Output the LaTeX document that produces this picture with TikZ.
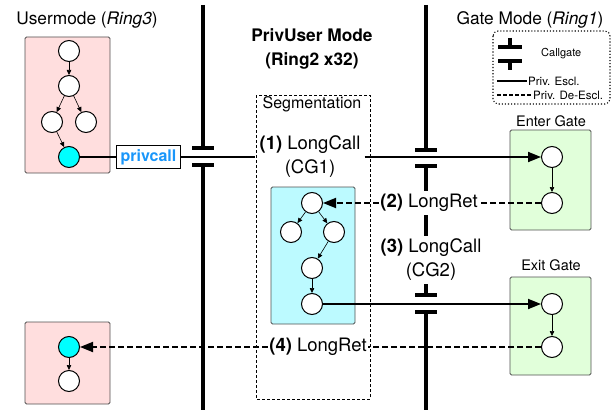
\documentclass[tikz,border=0pt]{standalone}
\usepackage{fontspec}
\setmainfont{TeX Gyre Heros}
\usetikzlibrary{arrows.meta}
\definecolor{userpink}{RGB}{255,222,222}
\definecolor{segcyan}{RGB}{188,250,255}
\definecolor{gategreen}{RGB}{225,255,218}
\definecolor{hotcyan}{RGB}{0,255,255}
\definecolor{privblue}{RGB}{25,150,250}
\definecolor{boxedge}{RGB}{80,80,80}
\tikzset{
  ring/.style={draw, circle, fill=white, minimum size=21pt, inner sep=0pt, line width=1pt},
  hotring/.style={ring, fill=hotcyan},
  flow/.style={line width=0.6pt, -{Triangle[length=5pt,width=4.5pt]}},
  wall/.style={line width=3.6pt},
  link/.style={line width=1.8pt},
  tip/.style={-{Triangle[length=13pt,width=10pt]}},
  back/.style={link, dash pattern=on 6pt off 3pt},
  hop/.style={font=\fontsize{18.5}{24}\selectfont, align=center, inner xsep=1.5pt, inner ysep=3pt},
  heading/.style={font=\fontsize{17.3}{24}\selectfont, align=center},
  keytext/.style={anchor=west, inner sep=1pt, font=\fontsize{11.5}{14}\selectfont},
  modebox/.style={draw=boxedge, line width=0.8pt, rounded corners=1.5pt}
}
\begin{document}
\begin{tikzpicture}[x=1pt, y=-1pt]
  \useasboundingbox (0,0) rectangle (616,412);

  % Mode walls and callgates
  \draw[wall] (203,5) -- (203,148) (203,165) -- (203,410);
  \draw[wall] (426,5) -- (426,150) (426,166) -- (426,295) (426,312) -- (426,410);
  \foreach \gx/\gy in {203/148, 203/165, 426/150, 426/166, 426/295, 426/312}
    \draw[wall] (\gx-11,\gy) -- (\gx+11,\gy);

  % Mode titles
  \node[heading] (umode) at (87,20) {Usermode (\textit{Ring3})};
  \node[heading, font=\fontsize{17.3}{24}\selectfont\bfseries] (pmode) at (312,49) {PrivUser Mode\\(Ring2 x32)};
  \node[heading] (gmode) at (530,20) {Gate Mode (\textit{Ring1})};

  % Boxes
  \draw[modebox, fill=userpink] (25,37) rectangle (110,173);
  \draw[modebox, fill=userpink] (25,322) rectangle (110,404);
  \draw[line width=0.9pt, dash pattern=on 3pt off 2pt] (256,95) rectangle (370,399);
  \node[font=\fontsize{16}{19}\selectfont] (seglbl) at (312,104) {Segmentation};
  \draw[modebox, fill=segcyan] (271,187) rectangle (355,324);
  \draw[modebox, fill=gategreen] (510,130) rectangle (591,230);
  \draw[modebox, fill=gategreen] (510,277) rectangle (591,375);
  \node[font=\fontsize{14.5}{17}\selectfont] (enterlbl) at (551,121) {Enter Gate};
  \node[font=\fontsize{14.5}{17}\selectfont] (exitlbl) at (551,265) {Exit Gate};

  % User mode graph
  \node[ring] (u1) at (69,51) {};
  \node[ring] (u2) at (69,86) {};
  \node[ring] (u3) at (52,122) {};
  \node[ring] (u4) at (86,122) {};
  \node[hotring] (u5) at (69,157) {};
  \draw[flow] (u1) -- (u2);
  \draw[flow] (u2) -- (u3);
  \draw[flow] (u2) -- (u4);
  \draw[flow] (u3) -- (u5);

  \node[hotring] (r1) at (69,347) {};
  \node[ring] (r2) at (69,381) {};
  \draw[flow] (r1) -- (r2);

  % Segmentation graph
  \node[ring] (s1) at (312,203) {};
  \node[ring] (s2) at (291,232) {};
  \node[ring] (s3) at (334,232) {};
  \node[ring] (s4) at (312,268) {};
  \node[ring] (s5) at (312,304) {};
  \draw[flow] (s1) -- (s2);
  \draw[flow] (s1) -- (s3);
  \draw[flow] (s3) -- (s4);
  \draw[flow] (s4) -- (s5);

  % Gates
  \node[ring] (en1) at (552,157) {};
  \node[ring] (en2) at (552,203) {};
  \node[ring] (ex1) at (552,304) {};
  \node[ring] (ex2) at (552,347) {};
  \draw[flow] (en1) -- (en2);
  \draw[flow] (ex1) -- (ex2);

  % Calls and returns
  \node[draw, fill=white, line width=0.8pt, text=privblue, font=\fontsize{16}{19}\selectfont\bfseries,
        inner xsep=4.5pt, minimum height=23pt] (pcall) at (148.5,157) {privcall};
  \node[hop, inner xsep=4pt] (lc1) at (310,157) {\textbf{(1)} LongCall\\(CG1)};
  \node[hop, fill=white] (lr2) at (429,203) {\textbf{(2)} LongRet};
  \node[hop, fill=white] (lc3) at (431,260) {\textbf{(3)} LongCall\\(CG2)};
  \node[hop] (lr4) at (318,347) {\textbf{(4)} LongRet};

  \draw[link] (u5) -- (pcall);
  \draw[link] (pcall) -- (lc1);
  \draw[link, tip] (lc1) -- (en1);
  \draw[back] (en2) -- (lr2);
  \draw[back, tip] (lr2) -- (s1);
  \draw[link, tip] (s5) -- (ex1);
  \draw[back] (ex2) -- (lr4);
  \draw[back, tip] (lr4) -- (r1);

  % Legend
  \draw[dotted, line width=1.1pt, rounded corners=5pt] (493,31) rectangle (610,104);
  \draw[line width=3.2pt] (510,38) -- (510,47) (498,47) -- (522,47)
                          (498,61) -- (522,61) (510,61) -- (510,70);
  \node[keytext, font=\fontsize{11}{13}\selectfont] (cglbl) at (540,54) {Callgate};
  \draw[line width=1.5pt] (497,81) -- (527,81);
  \node[keytext] (esclbl) at (527,81) {Priv. Escl.};
  \draw[line width=1.5pt, dash pattern=on 4pt off 2pt] (497,95) -- (532,95);
  \node[keytext] (deesclbl) at (532,95) {Priv. De-Escl.};
\end{tikzpicture}
\end{document}
